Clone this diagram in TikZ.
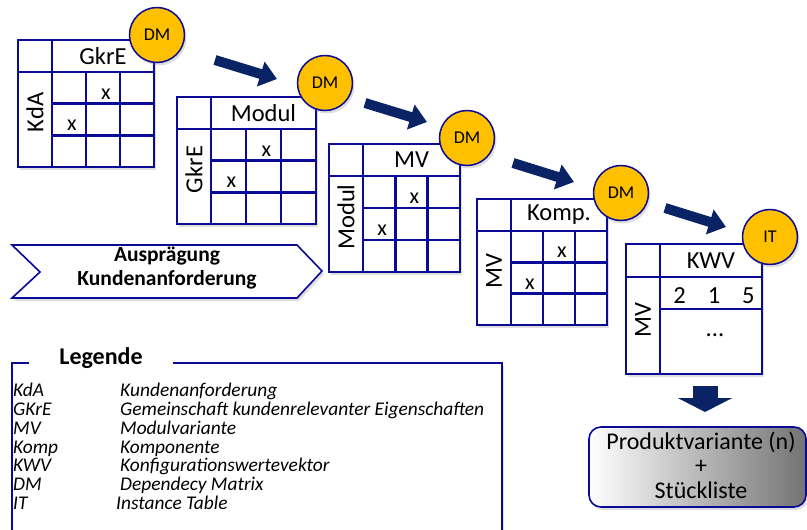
\documentclass[tikz,border=0pt]{standalone}
\usepackage{fontspec}
\setmainfont{Carlito}
\usetikzlibrary{arrows.meta,shadows}

\definecolor{gridblue}{RGB}{10,10,150}
\definecolor{dmgold}{RGB}{255,192,0}
\definecolor{flownavy}{RGB}{10,35,100}

\tikzset{
  gridline/.style={draw=gridblue,line width=2.6pt},
  softshadow/.style={drop shadow={opacity=0.25,shadow xshift=2pt,shadow yshift=-3pt}},
  colhead/.style={font=\fontsize{24.5}{26}\selectfont,inner sep=0pt},
  rowhead/.style={font=\fontsize{24.5}{26}\selectfont,inner sep=0pt,rotate=90},
  cellx/.style={font=\fontsize{22}{22}\selectfont,inner sep=0pt},
  badge/.style={circle,draw=gridblue,fill=dmgold,line width=1.5pt,minimum size=55pt,
    inner sep=0pt,font=\fontsize{18}{18}\selectfont,softshadow},
  flow/.style={draw=flownavy,line width=10pt,-{Triangle[length=17pt,width=25pt]}},
  legendhead/.style={font=\bfseries\fontsize{24}{24}\selectfont,fill=white,inner xsep=30pt,inner ysep=2pt},
  legendtext/.style={font=\itshape\fontsize{19.4}{18.8}\selectfont,anchor=north west,
    align=left,inner sep=0pt}
}

% dependency matrix: name, top left x, y, width, height, column head, row head
\newcommand{\dmgrid}[7]{%
  \draw[gridline,fill=white,softshadow] (#2,#3) rectangle ++(#4,#5);
  \draw[gridline] (#2,{#3+32}) -- ++(#4,0);
  \draw[gridline] ({#2+34},#3) -- ++(0,#5);
  \draw[gridline] ({#2+34+(#4-34)/3},{#3+32}) -- ++(0,{#5-32});
  \draw[gridline] ({#2+34+2*(#4-34)/3},{#3+32}) -- ++(0,{#5-32});
  \draw[gridline] ({#2+34},{#3+32+(#5-32)/3}) -- ++({#4-34},0);
  \draw[gridline] ({#2+34},{#3+32+2*(#5-32)/3}) -- ++({#4-34},0);
  \node[colhead] (#1-col) at ({#2+34+(#4-34)/2},{#3+16}) {#6};
  \node[rowhead] (#1-row) at ({#2+17},{#3+32+(#5-32)/2-7}) {#7};
  \node[cellx] (#1-x1) at ({#2+37+1.5*(#4-34)/3},{#3+38+0.5*(#5-32)/3}) {x};
  \node[cellx] (#1-x2) at ({#2+37+0.5*(#4-34)/3},{#3+38+1.5*(#5-32)/3}) {x};
}

\begin{document}
\begin{tikzpicture}[x=1pt,y=-1pt]
\useasboundingbox (0,0) rectangle (807,530);

% matrices
\dmgrid{kda}{18}{40}{136}{127}{GkrE}{KdA}
\node[badge] (dm1) at (157,35) {DM};
\dmgrid{gkre}{177}{97}{139}{127}{Modul}{GkrE}
\node[badge] (dm2) at (325,83) {DM};
\dmgrid{mod}{329}{144}{131}{128}{MV}{Modul}
\node[badge] (dm3) at (467,138) {DM};
\dmgrid{mv}{477}{199}{130}{126}{Komp.}{MV}
\node[badge] (dm4) at (621,193) {DM};

% instance table
\draw[gridline,fill=white,softshadow] (626,244) rectangle (762,374);
\draw[gridline] (626,277) -- (762,277);
\draw[gridline] (660,244) -- (660,374);
\draw[gridline] (660,309) -- (762,309);
\node[colhead] (kwv-col) at (711,261) {KWV};
\node[rowhead] (kwv-row) at (643,320) {MV};
\node[colhead] (kwv-val) at (714,296) {2\hspace{22pt}1\hspace{22pt}5};
\node[colhead] (kwv-dots) at (715,335) {...};
\node[badge] (it) at (770,237) {IT};

% arrows between the steps
\coordinate (a1s) at (215,60);  \coordinate (a1e) at (277,79);
\coordinate (a2s) at (365,103); \coordinate (a2e) at (427,122);
\coordinate (a3s) at (513,163); \coordinate (a3e) at (574,182);
\coordinate (a4s) at (665,208); \coordinate (a4e) at (726,227);
\draw[flow] (a1s) -- (a1e);
\draw[flow] (a2s) -- (a2e);
\draw[flow] (a3s) -- (a3e);
\draw[flow] (a4s) -- (a4e);

% chevron
\draw[draw=gridblue,line width=1.6pt,fill=white,softshadow]
  (12,245) -- (297,245) -- (322,271) -- (297,298) -- (12,298) -- (40,272) -- cycle;
\node[font=\bfseries\fontsize{21.5}{24}\selectfont,align=center] (chev) at (167,268)
  {Ausprägung\\Kundenanforderung};

% legend
\draw[draw=gridblue,line width=1.6pt,fill=white,softshadow] (12,363) rectangle (502,545);
\node[legendhead] (leg) at (101,358) {Legende};
\node[legendtext] (abbr) at (13,383)
  {KdA\\GKrE\\MV\\Komp\\KWV\\DM\\IT};
\node[legendtext] (desc) at (120,383)
  {Kundenanforderung\\Gemeinschaft kundenrelevanter Eigenschaften\\Modulvariante\\
   Komponente\\Konfigurationswertevektor\\Dependecy Matrix\\\hspace*{-4pt}Instance Table};

% result
\coordinate (ds) at (705,386); \coordinate (de) at (705,412);
\draw[draw=flownavy,line width=25pt,-{Triangle[length=14pt,width=54pt]}] (ds) -- (de);
\draw[draw=gridblue,line width=1.6pt,rounded corners=12pt,left color=white,
  middle color=white!95!black,right color=black!55,softshadow] (589,427) rectangle (806,507);
\node[font=\fontsize{24}{24.5}\selectfont,align=center] (prod) at (701,465)
  {Produktvariante (n)\\+\\Stückliste};
\end{tikzpicture}
\end{document}
